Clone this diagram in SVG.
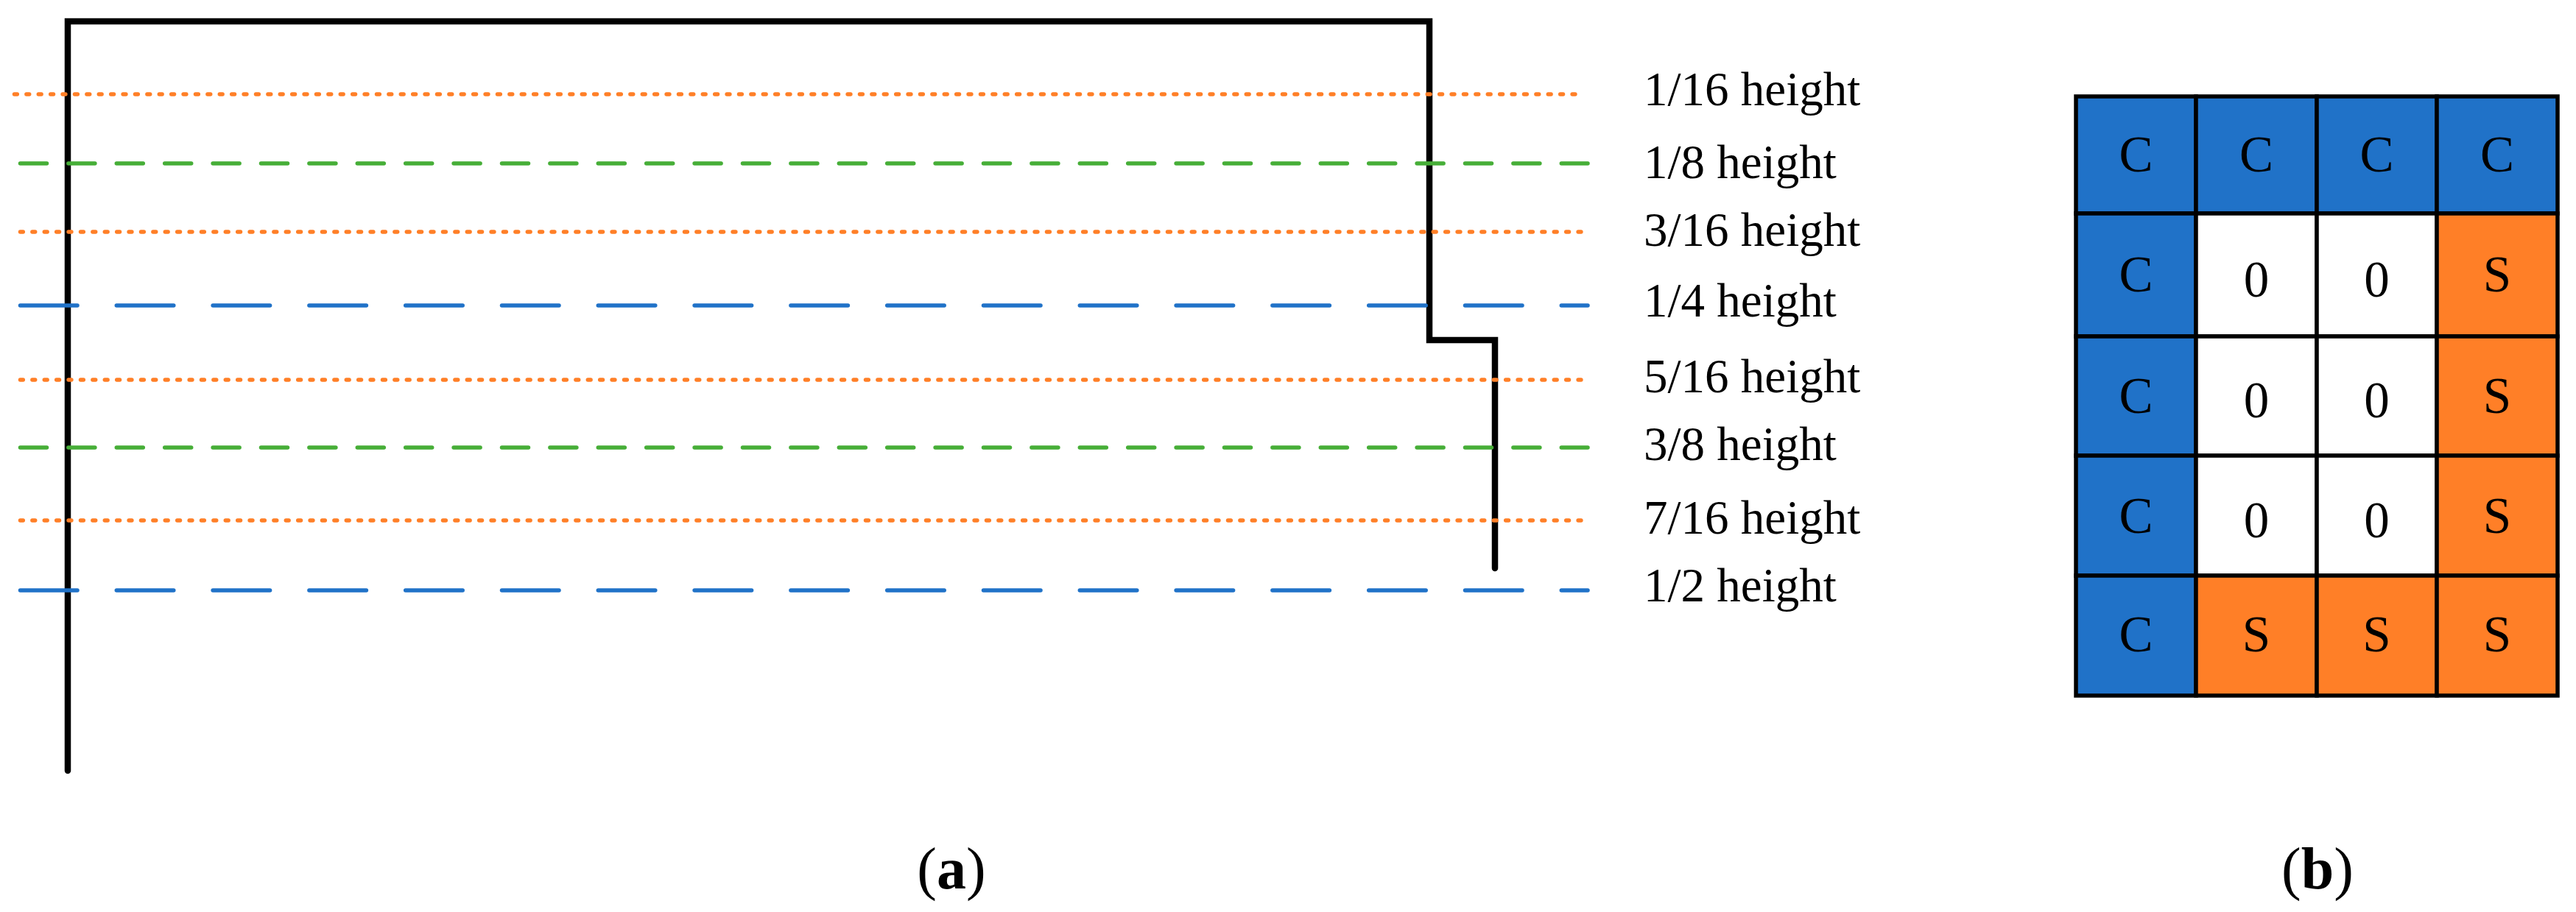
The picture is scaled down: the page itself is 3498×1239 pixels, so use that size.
<svg xmlns="http://www.w3.org/2000/svg" width="3498" height="1239" viewBox="0 0 3498 1239">
<style>
.bg{fill:#ffffff}
.outline{fill:none;stroke:#000;stroke-width:8.5;stroke-linejoin:miter;stroke-linecap:round}
.ln{fill:none;stroke-width:5.5;stroke-linecap:round}
.dot{stroke:#FF7F27;stroke-dasharray:3.8 12.6}
.grn{stroke:#46AE37;stroke-dasharray:36 29.4}
.blu{stroke:#2072C8;stroke-dasharray:77.5 53.3}
.lbl{font-family:"Liberation Serif","Times New Roman",serif;font-size:65px;fill:#000}
.cell{stroke:#000;stroke-width:5.5}
.cC{fill:#2072C8}
.cS{fill:#FF7F27}
.c0{fill:#ffffff}
.ct{font-family:"Liberation Serif","Times New Roman",serif;font-size:69px;fill:#000;text-anchor:middle}
.cap{font-family:"Liberation Serif","Times New Roman",serif;font-size:80px;fill:#000;text-anchor:middle}
</style>
<rect class="bg" x="0" y="0" width="3498" height="1239"/>
<g id="panel-a">
<g id="outline"><path class="outline" d="M92,1047 V29 H1941 V462 H2030 V772"/></g>
<g id="level-lines">
<line class="ln dot" x1="19.5" y1="128" x2="2148" y2="128"/>
<line class="ln grn" x1="27.5" y1="222" x2="2156" y2="222"/>
<line class="ln dot" x1="27.5" y1="315" x2="2156" y2="315"/>
<line class="ln blu" x1="27.5" y1="415" x2="2156" y2="415"/>
<line class="ln dot" x1="27.5" y1="516" x2="2156" y2="516"/>
<line class="ln grn" x1="27.5" y1="608" x2="2156" y2="608"/>
<line class="ln dot" x1="27.5" y1="707" x2="2156" y2="707"/>
<line class="ln blu" x1="27.5" y1="802" x2="2156" y2="802"/>
</g>
<g id="labels">
<text class="lbl" x="2232" y="143">1/16 height</text>
<text class="lbl" x="2232" y="242">1/8 height</text>
<text class="lbl" x="2232" y="334">3/16 height</text>
<text class="lbl" x="2232" y="430">1/4 height</text>
<text class="lbl" x="2232" y="533">5/16 height</text>
<text class="lbl" x="2232" y="625">3/8 height</text>
<text class="lbl" x="2232" y="725">7/16 height</text>
<text class="lbl" x="2232" y="817">1/2 height</text>
</g>
<text id="cap-a" class="cap" x="1292" y="1207">(<tspan font-weight="bold">a</tspan>)</text>
</g>
<g id="panel-b">
<g id="cells">
<rect class="cell cC" x="2819" y="131" width="163" height="159"/>
<rect class="cell cC" x="2982" y="131" width="164" height="159"/>
<rect class="cell cC" x="3146" y="131" width="163" height="159"/>
<rect class="cell cC" x="3309" y="131" width="164" height="159"/>
<rect class="cell cC" x="2819" y="290" width="163" height="167"/>
<rect class="cell c0" x="2982" y="290" width="164" height="167"/>
<rect class="cell c0" x="3146" y="290" width="163" height="167"/>
<rect class="cell cS" x="3309" y="290" width="164" height="167"/>
<rect class="cell cC" x="2819" y="457" width="163" height="162"/>
<rect class="cell c0" x="2982" y="457" width="164" height="162"/>
<rect class="cell c0" x="3146" y="457" width="163" height="162"/>
<rect class="cell cS" x="3309" y="457" width="164" height="162"/>
<rect class="cell cC" x="2819" y="619" width="163" height="163"/>
<rect class="cell c0" x="2982" y="619" width="164" height="163"/>
<rect class="cell c0" x="3146" y="619" width="163" height="163"/>
<rect class="cell cS" x="3309" y="619" width="164" height="163"/>
<rect class="cell cC" x="2819" y="782" width="163" height="163"/>
<rect class="cell cS" x="2982" y="782" width="164" height="163"/>
<rect class="cell cS" x="3146" y="782" width="163" height="163"/>
<rect class="cell cS" x="3309" y="782" width="164" height="163"/>
</g>
<g id="cell-text">
<text class="ct" x="2900.5" y="233">C</text>
<text class="ct" x="3064" y="233">C</text>
<text class="ct" x="3227.5" y="233">C</text>
<text class="ct" x="3391" y="233">C</text>
<text class="ct" x="2900.5" y="396">C</text>
<text class="ct" x="3064" y="403">0</text>
<text class="ct" x="3227.5" y="403">0</text>
<text class="ct" x="3391" y="396">S</text>
<text class="ct" x="2900.5" y="561">C</text>
<text class="ct" x="3064" y="567">0</text>
<text class="ct" x="3227.5" y="567">0</text>
<text class="ct" x="3391" y="561">S</text>
<text class="ct" x="2900.5" y="724">C</text>
<text class="ct" x="3064" y="730">0</text>
<text class="ct" x="3227.5" y="730">0</text>
<text class="ct" x="3391" y="724">S</text>
<text class="ct" x="2900.5" y="885">C</text>
<text class="ct" x="3064" y="885">S</text>
<text class="ct" x="3227.5" y="885">S</text>
<text class="ct" x="3391" y="885">S</text>
</g>
<text id="cap-b" class="cap" x="3147" y="1207">(<tspan font-weight="bold">b</tspan>)</text>
</g>
</svg>
